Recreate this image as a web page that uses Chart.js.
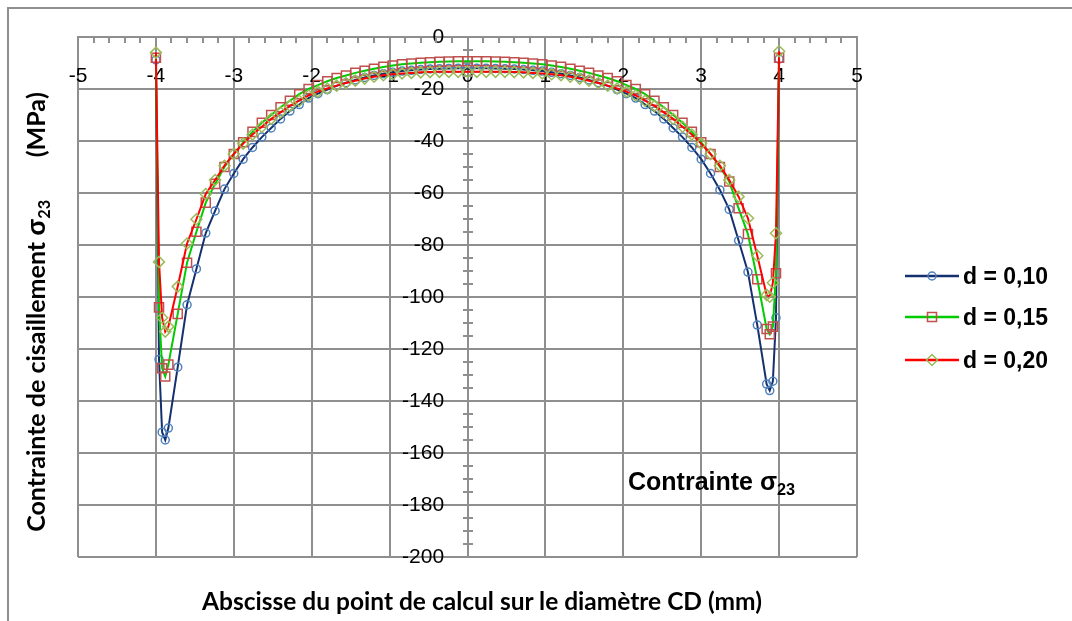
<!DOCTYPE html>
<html>
<head>
<meta charset="utf-8">
<script src="https://cdn.jsdelivr.net/npm/chart.js@4/dist/chart.umd.min.js"></script>
<style>
body { margin: 0; background: #fff; }
#wrap { position: relative; width: 1072px; height: 621px; overflow: hidden; background: #fff; }
#frame { position: absolute; left: 7px; top: 7px; width: 1100px; height: 650px; border-top: 2px solid #8f8f8f; border-left: 2px solid #8f8f8f; }
#mycanvas { position: absolute; left: 0; top: 0; }
#ytitle { position: absolute; left: -265px; top: 295px; width: 600px; height: 34px; line-height: 34px; text-align: center;
  transform: rotate(-90deg); font-family: Lato, sans-serif; font-weight: bold; font-size: 25px; color: #000; white-space: pre; }
#xtitle { position: absolute; left: 0; top: 586px; width: 964px; text-align: center; font-family: Lato, sans-serif; font-weight: bold; font-size: 24.5px; color: #000; }
#note { position: absolute; left: 628px; top: 466px; line-height: 30px; font-family: "Liberation Sans", Arial, sans-serif; font-weight: bold; font-size: 25px; color: #000; }
sub { font-size: 0.65em; vertical-align: -0.3em; }
.legrow { position: absolute; left: 905px; height: 30px; line-height: 30px; font-family: "Liberation Sans", Arial, sans-serif; font-weight: bold; font-size: 23px; color: #000; white-space: nowrap; }
.legrow canvas { vertical-align: middle; margin-right: 4px; position: relative; top: -2px; }
</style>
</head>
<body>
<div id="wrap">
  <div id="frame"></div>
  <canvas id="mycanvas" width="1072" height="621"></canvas>
  <div id="ytitle">Contrainte de cisaillement <span style="font-family:'Liberation Sans',Arial">σ</span><sub>23</sub>       (MPa)</div>
  <div id="xtitle">Abscisse du point de calcul sur le diamètre CD (mm)</div>
  <div id="note">Contrainte σ<sub>23</sub></div>
  <div id="legend"></div>
</div>
<script>
var xValues = [
	-4.00, -3.96, -3.92, -3.88, -3.84,
	-3.72, -3.60, -3.48, -3.36, -3.24, -3.12, -3.00, -2.88, -2.76, -2.64,
	-2.52, -2.40, -2.28, -2.16, -2.04, -1.92, -1.80, -1.68, -1.56, -1.44,
	-1.32, -1.20, -1.08, -0.96, -0.84, -0.72, -0.60, -0.48, -0.36, -0.24,
	-0.12,
	0,
	0.12, 0.24, 0.36, 0.48, 0.60, 0.72, 0.84, 0.96, 1.08, 1.20,
	1.32, 1.44, 1.56, 1.68, 1.80, 1.92, 2.04, 2.16, 2.28, 2.40,
	2.52, 2.64, 2.76, 2.88, 3.00, 3.12, 3.24, 3.36, 3.48, 3.60,
	3.72,
	3.84, 3.88, 3.92, 3.96, 4.00
];

// d = 0,10
var sigma010 = [
	-8.8, -124, -152, -155, -150.4,
	-127, -103, -89.2, -75.4, -66.9, -58.5, -52.5, -47, -42.5, -38.5,
	-35, -31.5, -28.5, -26, -23.5, -21.8, -20.2, -18.8, -17.6, -16.5,
	-15.6, -14.8, -14.1, -13.6, -13.1, -12.8, -12.5, -12.3, -12.2, -12.1,
	-12,
	-12,
	-12, -12, -12.1, -12.2, -12.3, -12.5, -12.8, -13.1, -13.6, -14.1,
	-14.8, -15.6, -16.5, -17.6, -18.8, -20.2, -21.8, -23.5, -26, -28.5,
	-31.5, -35, -38.5, -42.5, -47, -52.5, -58.8, -66.3, -78.3, -90.4,
	-110.8,
	-133.5, -136, -132.4, -108, -8.5
];

// d = 0,15
var sigma015 = [
	-8, -104, -127.4, -130.6, -126,
	-106.5, -86.8, -74.9, -63.7, -56.5, -50, -45, -40.5, -36.5, -33,
	-30, -27, -24.5, -22, -20, -18.5, -17, -15.8, -14.8, -13.8,
	-13, -12.2, -11.5, -11, -10.5, -10.2, -9.9, -9.7, -9.5, -9.4,
	-9.3,
	-9.3,
	-9.3, -9.3, -9.4, -9.5, -9.7, -9.9, -10.2, -10.5, -11, -11.5,
	-12.2, -13, -13.8, -14.8, -15.8, -17, -18.5, -20, -22, -24.5,
	-27, -30, -33, -36.5, -40.5, -45, -50, -55.6, -65.9, -75.8,
	-93.2,
	-112.3, -114.3, -111.4, -90.9, -8
];

// d = 0,20
var sigma020 = [
	-6, -86.5, -108, -113.3, -111.4,
	-96, -79.4, -70.1, -60.4, -55, -49.5, -45, -41, -37.5, -34.5,
	-31.5, -29, -26.5, -24.5, -22.5, -21, -19.8, -18.7, -17.7, -16.8,
	-16, -15.3, -14.7, -14.3, -14, -13.8, -13.6, -13.5, -13.4, -13.4,
	-13.4,
	-13.4,
	-13.4, -13.4, -13.4, -13.4, -13.5, -13.6, -13.8, -14, -14.3, -14.7,
	-15.3, -16, -16.8, -17.7, -18.7, -19.8, -21, -22.5, -24.5, -26.5,
	-29, -31.5, -34.5, -37.5, -41, -45, -49.5, -55, -61.4, -69.7,
	-84.1,
	-99.2, -99.9, -94.5, -75.5, -5.5
];

var seriesLabels = ['d = 0,10', 'd = 0,15', 'd = 0,20'];
var seriesData = [sigma010, sigma015, sigma020];
var lineColors = ['#15306e', '#00cc00', '#ff0000'];
var markerColors = ['#4f81bd', '#c0504d', '#9bbb59'];
var markerStyles = ['circle', 'rect', 'rectRot'];
var markerSizes = [4, 6.4, 5.5];

var gridColor = '#8f8f8f';

function points(values) {
	var out = [];
	for (var i = 0; i < xValues.length; i++) {
		out.push({x: xValues[i], y: values[i]});
	}
	return out;
}

var datasets = [];
for (var s = 0; s < seriesData.length; s++) {
	datasets.push({
		label: seriesLabels[s],
		data: points(seriesData[s]),
		borderColor: lineColors[s],
		borderWidth: 2,
		backgroundColor: lineColors[s],
		pointStyle: markerStyles[s],
		pointRadius: markerSizes[s],
		pointBorderColor: markerColors[s],
		pointBackgroundColor: 'rgba(0,0,0,0)',
		pointBorderWidth: 1.5,
		tension: 0,
		order: seriesData.length - s
	});
}

// small tick marks along the two axes
var minorTicks = {
	id: 'minorTicks',
	beforeDatasetsDraw: function(chart) {
		var sx = chart.scales.x, sy = chart.scales.y, ctx = chart.ctx;
		var y0 = Math.round(sy.getPixelForValue(0));
		var x0 = Math.round(sx.getPixelForValue(0));
		ctx.save();
		ctx.strokeStyle = gridColor;
		ctx.lineWidth = 2;
		ctx.beginPath();
		for (var v = -50; v <= 50; v += 2) {
			var px = Math.round(sx.getPixelForValue(v / 10));
			ctx.moveTo(px, y0);
			ctx.lineTo(px, y0 + 6);
		}
		for (var w = -200; w <= 0; w += 5) {
			var py = Math.round(sy.getPixelForValue(w));
			ctx.moveTo(x0 - 5, py);
			ctx.lineTo(x0 + 5, py);
		}
		ctx.stroke();
		ctx.restore();
	}
};

var ctx = document.getElementById('mycanvas');
var chart = new Chart(ctx, {
	type: 'line',
	data: {datasets: datasets},
	options: {
		responsive: false,
		animation: false,
		events: [],
		layout: {padding: {left: 78, top: 37, right: 215, bottom: 64}},
		plugins: {legend: {display: false}, tooltip: {enabled: false}},
		scales: {
			x: {
				type: 'linear',
				min: -5,
				max: 5,
				position: {y: 0},
				grid: {color: gridColor, lineWidth: 2, drawTicks: false},
				border: {color: gridColor, width: 2},
				ticks: {stepSize: 1, autoSkip: false, maxRotation: 0, padding: 27, color: '#000',
					font: {family: '"Liberation Sans", Arial, sans-serif', size: 21}}
			},
			y: {
				type: 'linear',
				min: -200,
				max: 0,
				// labels sit just left of the vertical line at x = 0 (drawn by the x grid)
				position: {x: -0.3},
				grid: {color: gridColor, lineWidth: 2, drawTicks: false},
				border: {display: false},
				ticks: {stepSize: 20, autoSkip: false, color: '#000',
					font: {family: '"Liberation Sans", Arial, sans-serif', size: 21}}
			}
		}
	},
	plugins: [minorTicks]
});

// legend built from the same series arrays
var legendBox = document.getElementById('legend');
var legendTops = [261, 302, 345];
for (var k = 0; k < seriesLabels.length; k++) {
	var row = document.createElement('div');
	row.className = 'legrow';
	row.style.top = legendTops[k] + 'px';
	var c = document.createElement('canvas');
	c.width = 54; c.height = 16;
	var g = c.getContext('2d');
	g.strokeStyle = lineColors[k];
	g.lineWidth = 2.5;
	g.beginPath(); g.moveTo(0, 8); g.lineTo(54, 8); g.stroke();
	g.strokeStyle = markerColors[k];
	g.lineWidth = 1.5;
	g.beginPath();
	if (markerStyles[k] === 'circle') {
		g.arc(27, 8, 4, 0, Math.PI * 2);
	} else if (markerStyles[k] === 'rect') {
		g.rect(22.5, 3.5, 9, 9);
	} else {
		g.moveTo(27, 2.5); g.lineTo(32.5, 8); g.lineTo(27, 13.5); g.lineTo(21.5, 8); g.closePath();
	}
	g.stroke();
	row.appendChild(c);
	row.appendChild(document.createTextNode(seriesLabels[k]));
	legendBox.appendChild(row);
}
</script>
</body>
</html>
